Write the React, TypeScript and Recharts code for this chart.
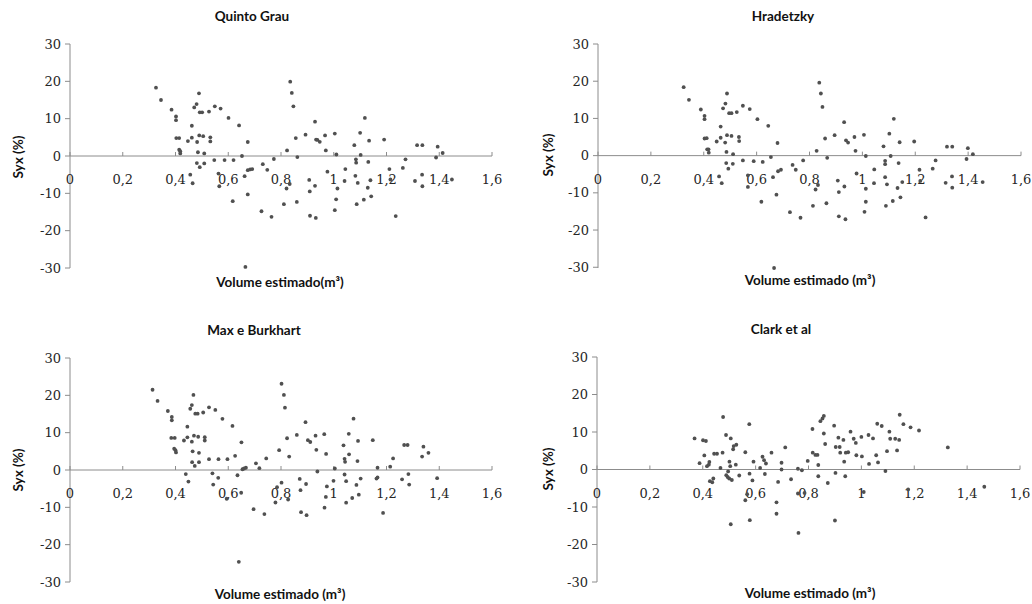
import React from "react";
import { ScatterChart, Scatter, XAxis, YAxis, ReferenceLine, ReferenceDot } from "recharts";

const xTicks = [0, 0.2, 0.4, 0.6, 0.8, 1, 1.2, 1.4, 1.6];
const xTickLabels = ["0", "0,2", "0,4", "0,6", "0,8", "1", "1,2", "1,4", "1,6"];
const yTicks = [-30, -20, -10, 0, 10, 20, 30];

const quintoGrau: [number, number][] = [
  [0.326, 18.3], [0.345, 15.0], [0.385, 12.4], [0.402, 10.6], [0.402, 9.6], [0.403, 4.8], [0.414, 4.8],
  [0.414, 1.7], [0.418, 1.3], [0.418, 0.7], [0.447, 4.0], [0.462, 8.1], [0.462, 4.9], [0.471, 13.0],
  [0.48, 13.9], [0.489, 16.8], [0.492, 11.7], [0.501, 11.7], [0.482, 3.75], [0.49, 5.5], [0.505, 5.3],
  [0.485, 1.0], [0.509, 0.7], [0.481, -1.9], [0.492, -3.0], [0.509, -2.0], [0.527, 11.9], [0.532, 5.0],
  [0.532, 3.9], [0.549, 13.3], [0.571, 12.7], [0.547, -1.1], [0.456, -5.0], [0.465, -7.3], [0.563, -4.7],
  [0.566, -8.1], [0.586, -1.1], [0.601, 10.2], [0.62, -1.1], [0.617, -12.1], [0.641, 8.2], [0.652, 0],
  [0.662, -5.4], [0.674, 3.75], [0.674, -3.8], [0.683, -3.6], [0.691, -3.5], [0.674, -10.3], [0.665, -29.7],
  [0.726, -14.8], [0.731, -2.2], [0.748, -3.7], [0.764, -16.3], [0.773, -0.8], [0.811, -12.9], [0.823, 1.5],
  [0.821, -8.7], [0.833, -7.5], [0.835, 19.9], [0.841, 16.9], [0.847, 13.3], [0.856, 4.8], [0.862, -0.3],
  [0.86, -12.3], [0.893, 5.7], [0.907, -6.4], [0.909, -9.5], [0.91, -16.0], [0.929, 9.2], [0.933, 4.4],
  [0.938, 4.3], [0.947, 3.8], [0.929, -8.0], [0.932, -16.6], [0.967, 5.5], [0.97, 1.5], [0.976, -4.2],
  [1.004, 6.0], [1.01, 0.4], [1.014, -8.7], [1.009, -11.6], [1.004, -14.5], [1.041, -6.7], [1.044, -3.5],
  [1.078, 2.9], [1.084, -0.9], [1.085, -1.8], [1.082, -5.3], [1.091, -7.2], [1.087, -12.9], [1.1, 6.2],
  [1.102, 0.3], [1.118, 10.2], [1.114, -11.7], [1.129, -8.5], [1.131, -1.6], [1.134, 4.1], [1.142, -10.8],
  [1.139, -6.5], [1.191, 4.4], [1.211, -3.5], [1.215, -6.3], [1.235, -16.1], [1.262, -3.2], [1.272, -0.9],
  [1.308, -6.7], [1.316, 2.9], [1.336, 2.9], [1.335, -5.0], [1.336, -8.1], [1.388, -0.4], [1.394, 2.5],
  [1.413, 0.8], [1.448, -6.3],
];

const hradetzky: [number, number][] = [
  [0.324, 18.4], [0.344, 15.0], [0.389, 12.4], [0.403, 10.7], [0.403, 9.8], [0.403, 4.6], [0.411, 4.7],
  [0.413, 1.7], [0.418, 1.7], [0.419, 0.8], [0.449, 3.8], [0.464, 7.8], [0.464, 4.8], [0.458, -5.6],
  [0.468, -7.4], [0.473, 12.7], [0.482, 14.0], [0.488, 16.7], [0.496, 11.4], [0.505, 11.4], [0.481, 3.5],
  [0.488, 5.5], [0.505, 5.3], [0.486, 1.0], [0.511, 0.4], [0.485, -2.0], [0.493, -3.5], [0.51, -2.2],
  [0.525, 11.7], [0.533, 5.0], [0.534, 3.9], [0.548, 13.4], [0.574, 12.5], [0.548, -1.3], [0.567, -5.3],
  [0.567, -8.4], [0.589, -1.5], [0.603, 9.8], [0.623, -1.7], [0.618, -12.4], [0.644, 8.0], [0.654, -0.4],
  [0.662, -5.8], [0.679, 3.4], [0.681, -4.2], [0.692, -3.8], [0.675, -10.5], [0.666, -30.2], [0.726, -15.2],
  [0.736, -2.5], [0.748, -3.8], [0.766, -16.7], [0.776, -1.3], [0.813, -13.5], [0.827, 1.3], [0.823, -9.1],
  [0.832, -7.9], [0.837, 19.6], [0.843, 16.7], [0.849, 13.1], [0.859, 4.6], [0.867, -0.6], [0.864, -12.8],
  [0.895, 5.5], [0.907, -6.7], [0.911, -9.8], [0.911, -16.3], [0.931, 9.0], [0.938, 4.1], [0.946, 3.5],
  [0.932, -8.3], [0.936, -17.1], [0.97, 5.0], [0.974, 1.3], [0.978, -4.8], [1.006, 5.6], [1.013, -0.1],
  [1.013, -8.9], [1.013, -12.4], [1.008, -15.1], [1.045, -3.7], [1.044, -7.4], [1.08, 2.5], [1.086, -1.4],
  [1.086, -2.3], [1.086, -5.8], [1.093, -7.7], [1.089, -13.5], [1.102, 5.9], [1.107, -0.1], [1.119, 9.9],
  [1.115, -12.2], [1.133, -8.7], [1.137, -2.0], [1.141, 3.6], [1.144, -11.2], [1.151, -7.1], [1.196, 3.8],
  [1.216, -3.8], [1.219, -6.8], [1.239, -16.6], [1.266, -3.5], [1.277, -1.3], [1.315, -7.3], [1.32, 2.4],
  [1.34, 2.4], [1.339, -5.6], [1.34, -8.6], [1.394, -0.9], [1.399, 2.0], [1.418, 0.4], [1.455, -7.1],
];

const maxBurkhart: [number, number][] = [
  [0.313, 21.5], [0.332, 18.5], [0.371, 15.8], [0.386, 14.2], [0.386, 13.3], [0.384, 8.6], [0.397, 8.6],
  [0.395, 5.7], [0.4, 5.3], [0.402, 4.7], [0.432, 7.9], [0.445, 11.6], [0.445, 8.75], [0.439, -1.1],
  [0.449, -3.1], [0.456, 16.4], [0.462, 17.4], [0.468, 20.1], [0.475, 15.1], [0.484, 15.1], [0.462, 7.6],
  [0.47, 9.2], [0.486, 8.9], [0.465, 5.0], [0.463, 2.1], [0.473, 1.1], [0.489, 4.6], [0.489, 2.1],
  [0.505, 15.4], [0.511, 8.8], [0.511, 7.9], [0.527, 16.8], [0.527, 2.9], [0.551, 16.1], [0.54, -0.9],
  [0.543, -3.9], [0.562, -2.1], [0.563, 2.9], [0.578, 13.7], [0.597, 2.9], [0.594, -7.7], [0.616, 11.8],
  [0.626, 3.8], [0.635, -1.4], [0.649, -6.1], [0.65, 7.4], [0.654, 0.2], [0.66, 0.4], [0.667, 0.6],
  [0.64, -24.6], [0.696, -10.5], [0.705, 1.8], [0.718, 0.5], [0.737, -11.8], [0.744, 3.1], [0.779, -8.7],
  [0.793, 5.3], [0.785, -4.6], [0.802, -3.4], [0.802, 23.1], [0.811, 20.1], [0.815, 16.7], [0.823, 8.5],
  [0.831, 3.6], [0.827, -7.9], [0.86, 9.4], [0.871, -2.4], [0.874, -5.4], [0.876, -11.3], [0.893, 12.8],
  [0.902, 8.0], [0.911, 7.5], [0.895, -3.75], [0.897, -12.1], [0.931, 9.2], [0.934, 5.4], [0.938, -0.4],
  [0.964, 9.6], [0.971, 4.3], [0.974, -4.4], [0.97, -7.2], [0.965, -10.1], [0.999, -2.9], [1.004, 0.4],
  [1.037, 6.6], [1.041, 3.0], [1.043, 2.2], [1.041, -1.2], [1.047, -3.0], [1.047, -8.75], [1.057, 9.7],
  [1.058, 4.2], [1.075, 13.75], [1.07, -7.5], [1.086, -4.0], [1.09, 2.4], [1.092, 7.8], [1.095, -6.6],
  [1.102, -2.3], [1.148, 8.0], [1.162, -2.3], [1.166, 0.6], [1.166, -2.0], [1.187, -11.5], [1.214, 0.9],
  [1.225, 3.1], [1.259, -2.5], [1.267, 6.7], [1.28, 6.7], [1.283, -1.1], [1.286, -3.9], [1.335, 3.6],
  [1.34, 6.25], [1.359, 4.6], [1.392, -2.2],
];

const clarkEtAl: [number, number][] = [
  [0.369, 8.3], [0.388, 1.7], [0.401, 7.8], [0.412, 7.6], [0.406, 3.75], [0.416, 0.9], [0.423, 1.3],
  [0.425, 2.0], [0.427, -3.1], [0.436, -3.4], [0.44, -2.4], [0.443, 4.2], [0.454, 4.2], [0.467, 0.4],
  [0.475, 4.5], [0.477, 14.0], [0.488, 9.2], [0.489, -1.5], [0.494, -2.0], [0.496, -0.5], [0.5, -2.4],
  [0.501, 2.1], [0.504, 0.9], [0.506, 8.3], [0.51, -2.8], [0.515, 5.4], [0.517, 6.25], [0.527, 6.6],
  [0.525, 1.3], [0.506, -14.6], [0.538, -1.6], [0.561, 4.6], [0.561, -8.2], [0.568, -6.6], [0.576, 12.1],
  [0.577, -1.1], [0.578, -13.5], [0.588, -2.9], [0.592, 2.1], [0.617, 0.4], [0.626, 3.4], [0.632, 2.5],
  [0.639, 1.6], [0.635, -1.2], [0.66, 4.5], [0.679, -8.75], [0.679, -11.8], [0.685, -3.3], [0.698, 1.8],
  [0.698, 0], [0.712, 5.9], [0.734, -2.6], [0.76, 0.2], [0.762, -16.9], [0.76, -6.4], [0.775, -0.2],
  [0.785, -6.25], [0.797, 2.3], [0.815, 10.8], [0.816, 4.5], [0.826, 3.9], [0.834, 3.9], [0.837, 1.2],
  [0.837, -1.8], [0.845, 12.9], [0.853, 13.6], [0.858, 14.3], [0.858, 9.6], [0.863, 6.8], [0.873, -3.6],
  [0.897, 11.7], [0.902, -0.9], [0.9, -13.6], [0.903, 6.0], [0.913, 8.5], [0.918, 6.0], [0.92, 4.5],
  [0.932, 7.9], [0.935, 2.1], [0.939, -1.8], [0.941, 4.5], [0.95, 4.6], [0.959, 10.1], [0.971, 8.2],
  [0.979, 7.1], [0.981, 3.8], [1.0, 8.7], [1.002, 3.5], [1.009, -6.0], [1.027, 9.2], [1.029, 1.5],
  [1.044, 8.3], [1.056, 3.8], [1.06, 12.2], [1.063, 1.9], [1.077, 11.6], [1.091, -0.4], [1.097, 4.9],
  [1.106, 10.1], [1.109, 8.2], [1.128, 8.2], [1.135, 5.1], [1.143, 7.9], [1.145, 14.6], [1.159, 12.1],
  [1.177, -5.3], [1.186, 11.25], [1.218, 10.4], [1.327, 5.9], [1.465, -4.6],
];

const AXIS = "#8c8c8c";
const DOT = "#505050";
const TICK_FONT = "'DejaVu Serif', 'Liberation Serif', serif";
const TICK_COLOR = "#262626";
const TICK_SIZE = 13;
const LABEL_FONT = "Lato, 'Open Sans', sans-serif";

type PanelProps = {
  title: string;
  xLabel: string;
  data: [number, number][];
  left: number;
  top: number;
  width: number;
  height: number;
  margin: { top: number; right: number; bottom: number; left: number };
  titleCx: number;
  titleCy: number;
  xLabelCx: number;
  xLabelCy: number;
  yLabelCx: number;
  yLabelCy: number;
};

const labelStyle: React.CSSProperties = {
  position: "absolute",
  textAlign: "center",
  fontFamily: LABEL_FONT,
  fontWeight: 700,
  fontSize: 13.5,
  lineHeight: "20px",
  color: "#111",
  whiteSpace: "nowrap",
};

function Panel(p: PanelProps) {
  const pts = p.data.map(([x, y]) => ({ x, y }));
  return (
    <div style={{ position: "absolute", left: p.left, top: p.top, width: p.width, height: p.height }}>
      <ScatterChart width={p.width} height={p.height} margin={p.margin}>
        <XAxis type="number" dataKey="x" domain={[0, 1.6]} ticks={xTicks} hide />
        <YAxis
          type="number"
          dataKey="y"
          domain={[-30, 30]}
          ticks={yTicks}
          width={40}
          axisLine={{ stroke: AXIS }}
          tickLine={{ stroke: AXIS }}
          tickSize={5}
          tickMargin={4}
          tick={{ fill: TICK_COLOR, fontSize: TICK_SIZE, fontFamily: TICK_FONT }}
          interval={0}
        />
        <ReferenceLine y={0} stroke={AXIS} strokeWidth={1} />
        {xTicks.map((t, i) => (
          <ReferenceDot
            key={t}
            x={t}
            y={0}
            r={0}
            ifOverflow="visible"
            shape={(s: any) => (
              <g>
                <line x1={s.cx} y1={s.cy} x2={s.cx} y2={s.cy - 4} stroke={AXIS} />
                <text
                  x={s.cx}
                  y={s.cy + 28}
                  textAnchor="middle"
                  fill={TICK_COLOR}
                  fontSize={TICK_SIZE}
                  fontFamily={TICK_FONT}
                >
                  {xTickLabels[i]}
                </text>
              </g>
            )}
          />
        ))}
        <Scatter
          data={pts}
          isAnimationActive={false}
          shape={(s: any) => <circle cx={s.cx} cy={s.cy} r={1.9} fill={DOT} />}
        />
      </ScatterChart>
      <div style={{ ...labelStyle, left: p.titleCx - p.left - 150, top: p.titleCy - p.top - 10, width: 300 }}>
        {p.title}
      </div>
      <div style={{ ...labelStyle, left: p.xLabelCx - p.left - 150, top: p.xLabelCy - p.top - 10, width: 300 }}>
        {p.xLabel}
      </div>
      <div
        style={{
          ...labelStyle,
          left: p.yLabelCx - p.left - 50,
          top: p.yLabelCy - p.top - 10,
          width: 100,
          transform: "rotate(-90deg)",
        }}
      >
        Syx (%)
      </div>
    </div>
  );
}

export default function App() {
  return (
    <div style={{ position: "absolute", left: 0, top: 0, width: 1032, height: 604, background: "#fff", overflow: "hidden" }}>
      <Panel
        title="Quinto Grau"
        xLabel="Volume estimado(m³)"
        data={quintoGrau}
        left={0}
        top={0}
        width={516}
        height={300}
        margin={{ top: 44, right: 24, bottom: 32, left: 30 }}
        titleCx={252}
        titleCy={16}
        xLabelCx={280}
        xLabelCy={282}
        yLabelCx={18}
        yLabelCy={157}
      />
      <Panel
        title="Hradetzky"
        xLabel="Volume estimado (m³)"
        data={hradetzky}
        left={516}
        top={0}
        width={516}
        height={300}
        margin={{ top: 44, right: 11, bottom: 32, left: 42 }}
        titleCx={783}
        titleCy={16}
        xLabelCx={810}
        xLabelCy={280}
        yLabelCx={548}
        yLabelCy={155}
      />
      <Panel
        title="Max e Burkhart"
        xLabel="Volume estimado (m³)"
        data={maxBurkhart}
        left={0}
        top={300}
        width={516}
        height={304}
        margin={{ top: 58, right: 24, bottom: 22, left: 30 }}
        titleCx={254}
        titleCy={330}
        xLabelCx={280}
        xLabelCy={594}
        yLabelCx={18}
        yLabelCy={470}
      />
      <Panel
        title="Clark et al"
        xLabel="Volume estimado (m³)"
        data={clarkEtAl}
        left={516}
        top={300}
        width={516}
        height={304}
        margin={{ top: 57, right: 12, bottom: 22, left: 41 }}
        titleCx={781}
        titleCy={329}
        xLabelCx={810}
        xLabelCy={593}
        yLabelCx={548}
        yLabelCy={469}
      />
    </div>
  );
}
